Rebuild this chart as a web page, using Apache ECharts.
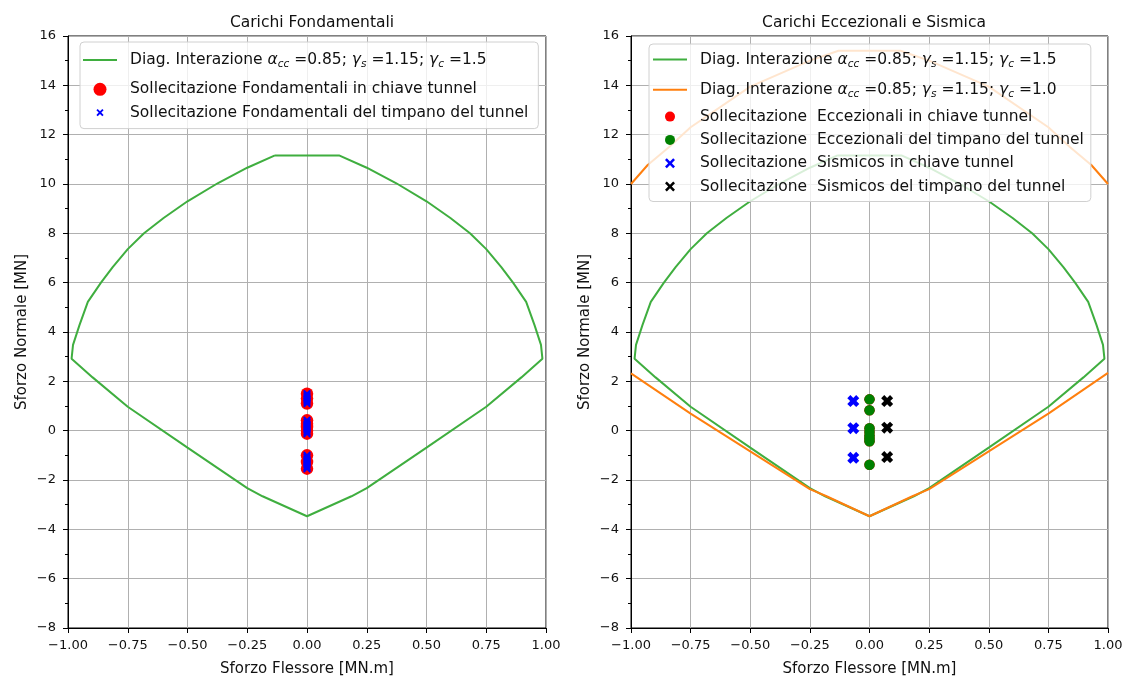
<!DOCTYPE html>
<html>
<head>
<meta charset="utf-8">
<script src="https://cdn.jsdelivr.net/npm/echarts@6/dist/echarts.min.js"></script>
<style>html,body{margin:0;padding:0;background:#fff}#c{width:1136px;height:682px}</style>
</head>
<body>
<div id="c"></div>
<script>
// ---------------- DATA ----------------
const titles = ['Carichi Fondamentali', 'Carichi Eccezionali e Sismica'];
const xAxisName = 'Sforzo Flessore [MN.m]';
const yAxisName = 'Sforzo Normale [MN]';
const xMin = -1, xMax = 1, xStep = 0.25;
const yMin = -8, yMax = 16, yStep = 2;

// interaction diagram, gamma_c = 1.5  [M, N]
const diag15 = [
  [-0.134, 11.16], [-0.25, 10.66], [-0.372, 10.04], [-0.5, 9.30], [-0.6, 8.62],
  [-0.682, 8.0], [-0.75, 7.36], [-0.813, 6.63], [-0.862, 6.0], [-0.917, 5.22],
  [-0.952, 4.28], [-0.979, 3.48], [-0.985, 2.92],
  [-0.897, 2.16], [-0.75, 0.97], [-0.5, -0.69], [-0.25, -2.33], [-0.186, -2.66], [0, -3.47],
  [0.186, -2.66], [0.25, -2.33], [0.5, -0.69], [0.75, 0.97], [0.897, 2.16],
  [0.985, 2.92], [0.979, 3.48], [0.952, 4.28], [0.917, 5.22], [0.862, 6.0],
  [0.813, 6.63], [0.75, 7.36], [0.682, 8.0], [0.6, 8.62], [0.5, 9.30],
  [0.372, 10.04], [0.25, 10.66], [0.134, 11.16], [-0.134, 11.16]
];
// interaction diagram, gamma_c = 1.0 (partly outside the axes; '-' = gap)
const diag10 = [
  [-1.0, 10.0], [-0.93, 10.77], [-0.84, 11.5], [-0.75, 12.3], [-0.5, 13.95],
  [-0.25, 15.0], [-0.13, 15.4], [0.13, 15.4], [0.25, 15.0], [0.5, 13.95],
  [0.75, 12.3], [0.84, 11.5], [0.93, 10.77], [1.0, 10.0],
  ['-', '-'],
  [1.0, 2.34], [0.75, 0.69], [0.5, -0.84], [0.25, -2.37], [0.18, -2.66], [0, -3.47],
  [-0.18, -2.66], [-0.25, -2.37], [-0.5, -0.84], [-0.75, 0.69], [-1.0, 2.32]
];
// left chart loads
const fondChiave = [[0, 1.5], [0, 1.3], [0, 1.1], [0, 0.42], [0, 0.28], [0, 0.15], [0, 0.0], [0, -0.12],
  [0, -1.0], [0, -1.27], [0, -1.54]];
const fondTimpano = [[0, 1.5], [0, 1.42], [0, 1.34], [0, 1.26], [0, 1.18], [0, 1.1],
  [0, 0.42], [0, 0.34], [0, 0.26], [0, 0.18], [0, 0.1], [0, 0.02], [0, -0.06], [0, -0.12],
  [0, -1.0], [0, -1.08], [0, -1.16], [0, -1.24], [0, -1.32], [0, -1.4], [0, -1.48], [0, -1.54]];
// right chart loads
const eccChiave = [[0, 1.27], [0, 0.83], [0, 0.1], [0, -0.05], [0, -0.2], [0, -0.32], [0, -0.43], [0, -1.38]];
const eccTimpano = [[0, 1.27], [0, 0.83], [0, 0.1], [0, -0.05], [0, -0.2], [0, -0.32], [0, -0.43], [0, -1.38]];
const sisChiave = [[-0.068, 1.2], [-0.068, 0.1], [-0.068, -1.1]];
const sisTimpano = [[0.074, 1.2], [0.074, 0.12], [0.074, -1.07]];

const N15 = 'Diag. Interazione αcc =0.85; γs =1.15; γc =1.5';
const N10 = 'Diag. Interazione αcc =0.85; γs =1.15; γc =1.0';
const NFC = 'Sollecitazione Fondamentali in chiave tunnel';
const NFT = 'Sollecitazione Fondamentali del timpano del tunnel';
const NEC = 'Sollecitazione  Eccezionali in chiave tunnel';
const NET = 'Sollecitazione  Eccezionali del timpano del tunnel';
const NSC = 'Sollecitazione  Sismicos in chiave tunnel';
const NST = 'Sollecitazione  Sismicos del timpano del tunnel';

// ---------------- STYLE ----------------
const FONT = 'DejaVu Sans';
const GREEN = '#3fae3f', ORANGE = '#ff7f0e';
const X_BOLD = 'path://M0,2.6L2.6,0L5,2.4L7.4,0L10,2.6L7.6,5L10,7.4L7.4,10L5,7.6L2.6,10L0,7.4L2.4,5Z';
const X_THIN = 'path://M0,1.8L1.8,0L5,3.2L8.2,0L10,1.8L6.8,5L10,8.2L8.2,10L5,6.8L1.8,10L0,8.2L3.2,5Z';
const X_THIN_PAD = 'path://M-4,-4M14,14M0,1.8L1.8,0L5,3.2L8.2,0L10,1.8L6.8,5L10,8.2L8.2,10L5,6.8L1.8,10L0,8.2L3.2,5Z';
const LINE_ICON = 'path://M0,-5M34,5M0,-1L34,-1L34,1L0,1Z';

const minus = v => (v < 0 ? '\u2212' : '') + Math.abs(v);
function xAxisCfg(idx) {
  return {
    gridIndex: idx, type: 'value', min: xMin, max: xMax, interval: xStep,
    name: xAxisName, nameLocation: 'middle', nameGap: 34,
    nameTextStyle: {fontFamily: FONT, fontSize: 15, color: '#111'},
    axisLine: {show: true, onZero: false, lineStyle: {color: '#000', width: 1}},
    axisTick: {show: true, length: 5, lineStyle: {color: '#000'}},
    axisLabel: {fontFamily: FONT, fontSize: 13, color: '#111', margin: 11,
      formatter: v => (v < 0 ? '\u2212' : '') + Math.abs(v).toFixed(2)},
    splitLine: {show: true, lineStyle: {color: '#b0b0b0', width: 1}}
  };
}
function yAxisCfg(idx) {
  return {
    gridIndex: idx, type: 'value', min: yMin, max: yMax, interval: yStep,
    name: yAxisName, nameLocation: 'middle', nameGap: 38, nameRotate: 90,
    nameTextStyle: {fontFamily: FONT, fontSize: 15, color: '#111'},
    axisLine: {show: true, onZero: false, lineStyle: {color: '#000', width: 1}},
    axisTick: {show: true, length: 5, lineStyle: {color: '#000'}},
    minorTick: {show: true, splitNumber: 2, length: 3, lineStyle: {color: '#000'}},
    axisLabel: {fontFamily: FONT, fontSize: 13, color: '#111', margin: 12, formatter: minus},
    splitLine: {show: true, lineStyle: {color: '#b0b0b0', width: 1}}
  };
}
function richFor(lh) {
  return {
    t: {fontFamily: FONT, fontSize: 15.5, color: '#111', lineHeight: lh},
    g: {fontFamily: FONT, fontSize: 15.5, fontStyle: 'italic', color: '#111', lineHeight: lh},
    s: {fontFamily: FONT, fontSize: 10.5, fontStyle: 'italic', color: '#111', lineHeight: 11, padding: [9, 0, 0, 0], verticalAlign: 'middle'}
  };
}
function mathName(gc) {
  return '{t|Diag. Interazione }{g|α}{s|cc}{t| =0.85; }{g|γ}{s|s}{t| =1.15; }{g|γ}{s|c}{t| =' + gc + '}';
}
function fmt(name) {
  if (name === N15) return mathName('1.5');
  if (name === N10) return mathName('1.0');
  return name;
}
function legendCfg(left, top, padding, itemHeight, mathLH, data) {
  return {
    orient: 'vertical', left: left, top: top, padding: padding,
    itemGap: 5.3, itemWidth: 34, itemHeight: itemHeight, selectedMode: false,
    backgroundColor: 'rgba(255,255,255,0.8)', borderColor: '#d0d0d0', borderWidth: 1, borderRadius: 4,
    textStyle: {fontFamily: FONT, fontSize: 15.5, color: '#111', lineHeight: 18, padding: [0, 0, 0, 8], rich: richFor(mathLH)},
    formatter: fmt, data: data
  };
}
function lineSeries(name, data, color, idx) {
  return {type: 'line', name: name, data: data, xAxisIndex: idx, yAxisIndex: idx,
    symbol: 'none', showSymbol: false, connectNulls: false, clip: true, silent: true,
    lineStyle: {color: color, width: 2}, itemStyle: {color: color}, z: 2};
}
function scatterSeries(name, data, color, symbol, size, idx) {
  return {type: 'scatter', name: name, data: data, xAxisIndex: idx, yAxisIndex: idx,
    symbol: symbol, symbolSize: size, silent: true,
    itemStyle: {color: color, opacity: 1}, z: 3};
}

const chart = echarts.init(document.getElementById('c'), null, {renderer: 'canvas'});
chart.setOption({
  animation: false,
  backgroundColor: '#fff',
  title: [
    {text: titles[0], left: 307, top: 10, textAlign: 'center', textStyle: {fontFamily: FONT, fontSize: 15.5, fontWeight: 'normal', color: '#111'}},
    {text: titles[1], left: 869, top: 10, textAlign: 'center', textStyle: {fontFamily: FONT, fontSize: 15.5, fontWeight: 'normal', color: '#111'}}
  ],
  grid: [
    {left: 68, right: 1136 - 546, top: 36, bottom: 682 - 630, show: true, borderColor: '#000', borderWidth: 1, backgroundColor: 'transparent'},
    {left: 631, right: 1136 - 1108, top: 36, bottom: 682 - 630, show: true, borderColor: '#000', borderWidth: 1, backgroundColor: 'transparent'}
  ],
  xAxis: [xAxisCfg(0), xAxisCfg(1)],
  yAxis: [yAxisCfg(0), yAxisCfg(1)],
  legend: [
    legendCfg(80, 42, [3, 10, 7, 3], 13, 30, [{name: N15, icon: LINE_ICON}, {name: NFC}, {name: NFT, icon: X_THIN_PAD}]),
    legendCfg(649, 44, [3, 7, 6, 4], 10, 25, [{name: N15, icon: LINE_ICON}, {name: N10, icon: LINE_ICON}, {name: NEC}, {name: NET}, {name: NSC, icon: X_THIN}, {name: NST, icon: X_THIN}])
  ],
  series: [
    lineSeries(N15, diag15, GREEN, 0),
    scatterSeries(NFC, fondChiave, '#ff0000', 'circle', 12.5, 0),
    scatterSeries(NFT, fondTimpano, '#0000ff', X_THIN, 8, 0),
    lineSeries(N15, diag15, GREEN, 1),
    lineSeries(N10, diag10, ORANGE, 1),
    scatterSeries(NEC, eccChiave, '#ff0000', 'circle', 10.5, 1),
    scatterSeries(NET, eccTimpano, '#008000', 'circle', 10.5, 1),
    scatterSeries(NSC, sisChiave, '#0000ff', X_BOLD, 12, 1),
    scatterSeries(NST, sisTimpano, '#000000', X_BOLD, 12, 1)
  ]
});
</script>
</body>
</html>
